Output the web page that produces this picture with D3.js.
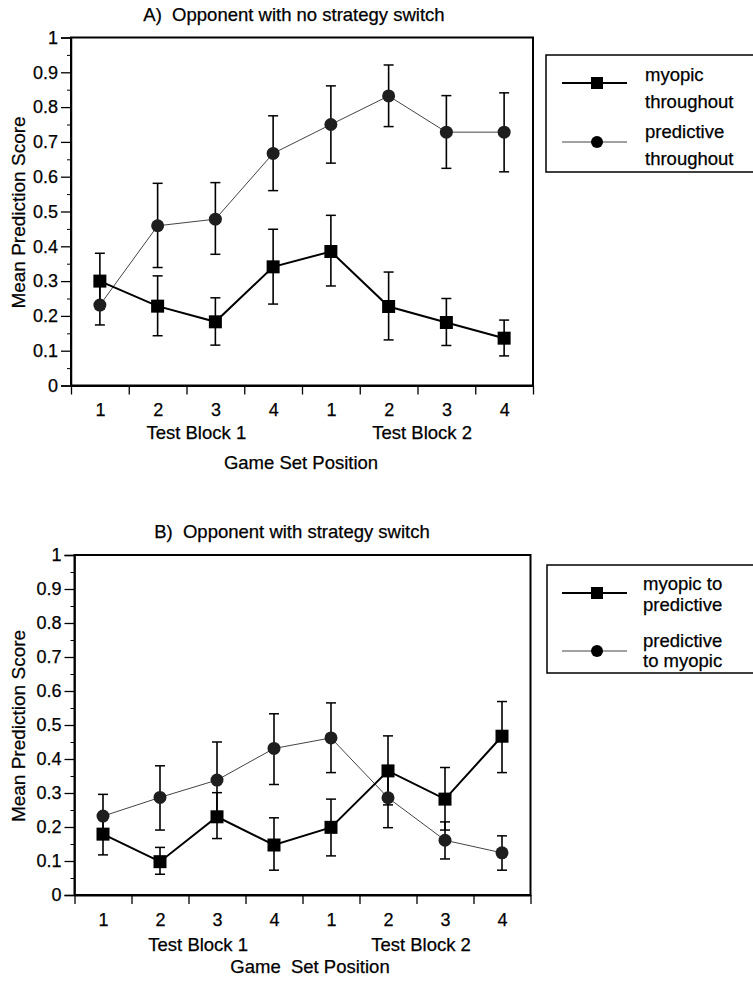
<!DOCTYPE html>
<html>
<head>
<meta charset="utf-8">
<script src="https://cdn.jsdelivr.net/npm/d3@7"></script>
<style>
  body { margin: 0; background: #fff; }
  svg { display: block; font-family: "Liberation Sans", Arial, sans-serif; }
  svg text { stroke: #000; stroke-width: 0.25px; fill: #000; white-space: pre; }
  .axis path, .axis line { stroke: #000; }
  .axis text { font-size: 18px; }
</style>
</head>
<body>
<div id="chart"></div>
<script>
// game set positions (two test blocks of four)
const gamePositions = ["1", "2", "3", "4", "1", "2", "3", "4"];
const yTicks = [0, 0.1, 0.2, 0.3, 0.4, 0.5, 0.6, 0.7, 0.8, 0.9, 1];

// A) opponent with no strategy switch
const myopicThroughout = [0.30, 0.228, 0.183, 0.341, 0.385, 0.227, 0.181, 0.136];
const myopicThroughoutLo = [0.22, 0.143, 0.116, 0.234, 0.286, 0.131, 0.115, 0.085];
const myopicThroughoutHi = [0.38, 0.315, 0.252, 0.449, 0.489, 0.326, 0.25, 0.188];
const predictiveThroughout = [0.231, 0.459, 0.478, 0.667, 0.75, 0.832, 0.728, 0.728];
const predictiveThroughoutLo = [0.174, 0.339, 0.377, 0.56, 0.639, 0.744, 0.624, 0.614];
const predictiveThroughoutHi = [0.29, 0.581, 0.583, 0.775, 0.861, 0.921, 0.833, 0.841];

// B) opponent with strategy switch
const myopicToPredictive = [0.179, 0.098, 0.23, 0.147, 0.199, 0.365, 0.282, 0.467];
const myopicToPredictiveLo = [0.118, 0.061, 0.166, 0.073, 0.115, 0.265, 0.191, 0.36];
const myopicToPredictiveHi = [0.24, 0.14, 0.301, 0.227, 0.282, 0.468, 0.375, 0.569];
const predictiveToMyopic = [0.232, 0.287, 0.338, 0.431, 0.462, 0.286, 0.161, 0.124];
const predictiveToMyopicLo = [0.17, 0.191, 0.228, 0.325, 0.36, 0.198, 0.106, 0.073];
const predictiveToMyopicHi = [0.296, 0.38, 0.45, 0.533, 0.565, 0.374, 0.215, 0.174];

const svg = d3.select("#chart").append("svg")
  .attr("width", 753)
  .attr("height", 986);

function toRows(vals, lo, hi) {
  return vals.map((v, i) => ({ i: i, v: v, lo: lo[i], hi: hi[i] }));
}

function drawPanel(p) {
  const g = svg.append("g");
  const xEdge = d3.scaleLinear().domain([0, 8]).range([p.left, p.right]);
  const y = d3.scaleLinear().domain([0, 1]).range([p.bottom, p.top]);
  const xc = (i) => xEdge(i + 0.5);

  // title
  g.append("text")
    .attr("x", p.titleX)
    .attr("y", p.top - 17)
    .attr("text-anchor", "middle")
    .style("font-size", "18.5px")
    .text(p.title);

  // frame
  g.append("rect")
    .attr("x", p.left)
    .attr("y", p.top)
    .attr("width", p.right - p.left)
    .attr("height", p.bottom - p.top)
    .attr("fill", "none")
    .attr("stroke", "#000")
    .attr("stroke-width", 2);

  // y axis, major + minor ticks
  g.append("g")
    .attr("class", "axis")
    .attr("transform", `translate(${p.left},0)`)
    .call(d3.axisLeft(y).tickValues(yTicks).tickSize(10).tickPadding(3)
      .tickFormat((d) => (d === 0 || d === 1 ? d3.format("d")(d) : d3.format(".1f")(d))))
    .call((a) => a.select(".domain").attr("stroke-width", 1.5))
    .call((a) => a.selectAll(".tick line").attr("stroke-width", 1.3));

  g.append("g")
    .attr("class", "axis")
    .attr("transform", `translate(${p.left},0)`)
    .call(d3.axisLeft(y).tickValues(yTicks.slice(0, 10).map((d) => d + 0.05))
      .tickSize(4).tickFormat(""))
    .call((a) => a.select(".domain").remove());

  // x axis: band edge ticks and centred labels
  g.append("g")
    .attr("class", "axis")
    .attr("transform", `translate(0,${p.bottom})`)
    .call(d3.axisBottom(xEdge).tickValues(d3.range(0, 9)).tickSize(9).tickSizeOuter(0).tickFormat(""))
    .call((a) => a.select(".domain").attr("stroke-width", 2))
    .call((a) => a.selectAll(".tick line").attr("stroke-width", 1.3));

  g.append("g")
    .attr("class", "axis")
    .attr("transform", `translate(0,${p.bottom})`)
    .call(d3.axisBottom(xEdge).tickValues(d3.range(0, 8).map((d) => d + 0.5))
      .tickSize(0).tickPadding(p.tickPad).tickFormat((d) => gamePositions[Math.floor(d)]))
    .call((a) => a.select(".domain").remove());

  g.append("text")
    .attr("x", xEdge(2.17))
    .attr("y", p.bottom + p.blockDy)
    .attr("text-anchor", "middle")
    .style("font-size", "18.5px")
    .text("Test Block 1");

  g.append("text")
    .attr("x", xEdge(6.08))
    .attr("y", p.bottom + p.blockDy)
    .attr("text-anchor", "middle")
    .style("font-size", "18.5px")
    .text("Test Block 2");

  g.append("text")
    .attr("x", p.xTitleX)
    .attr("y", p.bottom + p.xTitleDy)
    .attr("text-anchor", "middle")
    .style("font-size", "18.5px")
    .text(p.xTitle);

  g.append("text")
    .attr("transform", `translate(25,${(p.top + p.bottom) / 2 + 1}) rotate(-90)`)
    .attr("text-anchor", "middle")
    .style("font-size", "19px")
    .text("Mean Prediction Score");

  const line = d3.line().x((d) => xc(d.i)).y((d) => y(d.v));

  // circle series drawn first (thin grey line)
  const circ = p.circleRows;
  g.append("path")
    .datum(circ)
    .attr("d", line)
    .attr("fill", "none")
    .attr("stroke", "#444")
    .attr("stroke-width", 1);

  const sq = p.squareRows;
  g.append("path")
    .datum(sq)
    .attr("d", line)
    .attr("fill", "none")
    .attr("stroke", "#000")
    .attr("stroke-width", 2);

  // error bars
  const all = circ.concat(sq);
  const eb = g.append("g");
  eb.selectAll(".eb-v")
    .data(all)
    .join("line")
    .attr("x1", (d) => xc(d.i))
    .attr("x2", (d) => xc(d.i))
    .attr("y1", (d) => y(d.lo))
    .attr("y2", (d) => y(d.hi))
    .attr("stroke", "#000")
    .attr("stroke-width", 1.6);
  ["lo", "hi"].forEach((k) => {
    eb.selectAll(".eb-" + k)
      .data(all)
      .join("line")
      .attr("x1", (d) => xc(d.i) - 5)
      .attr("x2", (d) => xc(d.i) + 5)
      .attr("y1", (d) => y(d[k]))
      .attr("y2", (d) => y(d[k]))
      .attr("stroke", "#000")
      .attr("stroke-width", 1.5);
  });

  g.selectAll(".pt-c")
    .data(circ)
    .join("circle")
    .attr("cx", (d) => xc(d.i))
    .attr("cy", (d) => y(d.v))
    .attr("r", 6.5)
    .attr("fill", "#1e1e1e");

  g.selectAll(".pt-s")
    .data(sq)
    .join("rect")
    .attr("x", (d) => xc(d.i) - 6.5)
    .attr("y", (d) => y(d.v) - 6.5)
    .attr("width", 13)
    .attr("height", 13)
    .attr("fill", "#000");

  // legend
  const L = p.legend;
  g.append("rect")
    .attr("x", L.x)
    .attr("y", L.y)
    .attr("width", 240)
    .attr("height", L.h)
    .attr("fill", "none")
    .attr("stroke", "#000")
    .attr("stroke-width", 1.5);

  L.items.forEach((it) => {
    g.append("line")
      .attr("x1", 562).attr("x2", 627)
      .attr("y1", it.lineY).attr("y2", it.lineY)
      .attr("stroke", it.square ? "#000" : "#444")
      .attr("stroke-width", it.square ? 2 : 1);
    if (it.square) {
      g.append("rect")
        .attr("x", 591).attr("y", it.lineY - 6)
        .attr("width", 12).attr("height", 12)
        .attr("fill", "#000");
    } else {
      g.append("circle")
        .attr("cx", 597).attr("cy", it.lineY)
        .attr("r", 6).attr("fill", "#000");
    }
    it.text.forEach((t, j) => {
      g.append("text")
        .attr("x", L.textX)
        .attr("y", it.baselines[j])
        .style("font-size", "18.5px")
        .text(t);
    });
  });
}

drawPanel({
  title: "A)  Opponent with no strategy switch",
  titleX: 294,
  left: 71, right: 533, top: 37.5, bottom: 385.5,
  tickPad: 18, blockDy: 53, xTitleDy: 83,
  xTitle: "Game Set Position", xTitleX: 301,
  squareRows: toRows(myopicThroughout, myopicThroughoutLo, myopicThroughoutHi),
  circleRows: toRows(predictiveThroughout, predictiveThroughoutLo, predictiveThroughoutHi),
  legend: {
    x: 546, y: 55, h: 117, textX: 645,
    items: [
      { square: true, lineY: 83, baselines: [81, 108], text: ["myopic", "throughout"] },
      { square: false, lineY: 142, baselines: [138, 165], text: ["predictive", "throughout"] }
    ]
  }
});

drawPanel({
  title: "B)  Opponent with strategy switch",
  titleX: 292,
  left: 74.5, right: 530.5, top: 555, bottom: 895,
  tickPad: 18, blockDy: 56, xTitleDy: 78,
  xTitle: "Game  Set Position", xTitleX: 310,
  squareRows: toRows(myopicToPredictive, myopicToPredictiveLo, myopicToPredictiveHi),
  circleRows: toRows(predictiveToMyopic, predictiveToMyopicLo, predictiveToMyopicHi),
  legend: {
    x: 547, y: 565, h: 108, textX: 643,
    items: [
      { square: true, lineY: 593, baselines: [590, 611], text: ["myopic to", "predictive"] },
      { square: false, lineY: 651, baselines: [647, 667], text: ["predictive", "to myopic"] }
    ]
  }
});
</script>
</body>
</html>
